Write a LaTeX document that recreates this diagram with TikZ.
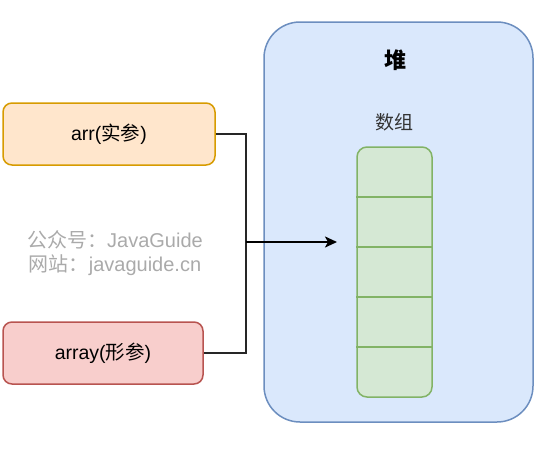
\documentclass[tikz,border=0pt]{standalone}
\usepackage{fontspec}
\setmainfont{Liberation Sans}
\newfontfamily\cjk{Noto Sans CJK SC}
\usetikzlibrary{arrows.meta}
\definecolor{heapfill}{HTML}{DAE8FC}
\definecolor{heapline}{HTML}{6C8EBF}
\definecolor{cellfill}{HTML}{D5E8D4}
\definecolor{cellline}{HTML}{82B366}
\definecolor{argfill}{HTML}{FFE6CC}
\definecolor{argline}{HTML}{D79B00}
\definecolor{parfill}{HTML}{F8CECC}
\definecolor{parline}{HTML}{B85450}
\definecolor{wmark}{HTML}{AAAAAA}
\tikzset{
	refbox/.style n args={4}{
			draw=#2, fill=#1, line width=1.5pt, rounded corners=#4,
			minimum width=#3, inner sep=0pt
		},
	label text/.style={font=\fontsize{19.5}{22}\selectfont},
	link/.style={line width=1.5pt, draw=black!85}
}

\begin{document}
\begin{tikzpicture}[x=1pt, y=-1pt]
	\useasboundingbox (0, 0) rectangle (551, 448);

	\node[refbox={heapfill}{heapline}{269pt}{36pt}, minimum height=400pt] (heap) at (398.5, 222) {};
	\node[font=\cjk\bfseries\fontsize{22}{24}\selectfont] (heaptitle) at (395, 60) {堆};
	\node[font=\cjk\fontsize{19}{21}\selectfont, text=black!80] (arrtitle) at (394, 122) {数组};

	\node[refbox={cellfill}{cellline}{75pt}{10pt}, minimum height=250pt] (col) at (394.5, 272) {};
	\foreach \y in {197, 247, 297, 347}
	\draw[cellline, line width=1.5pt] (col.west |- 0, \y) -- (col.east |- 0, \y);

	\node[refbox={argfill}{argline}{212pt}{9pt}, minimum height=62pt, label text] (arr) at (109, 134) {arr({\cjk 实参})};
	\node[refbox={parfill}{parline}{200pt}{9pt}, minimum height=62pt, label text] (array) at (103, 353) {array({\cjk 形参})};

	\node[text=wmark, align=center, font=\fontsize{20}{23.5}\selectfont] (wm) at (115, 253)
	{{\cjk 公众号：}JavaGuide\\{\cjk 网站：}javaguide.cn};

	\coordinate (join) at (246, 242);
	\coordinate (tip) at (337, 242);
	\draw[link] (arr.east) -| (join) |- (array.east);
	\draw[line width=2pt, -{Stealth[length=12pt, width=11pt, inset=3pt]}] (join) -- (tip);

\end{tikzpicture}
\end{document}
